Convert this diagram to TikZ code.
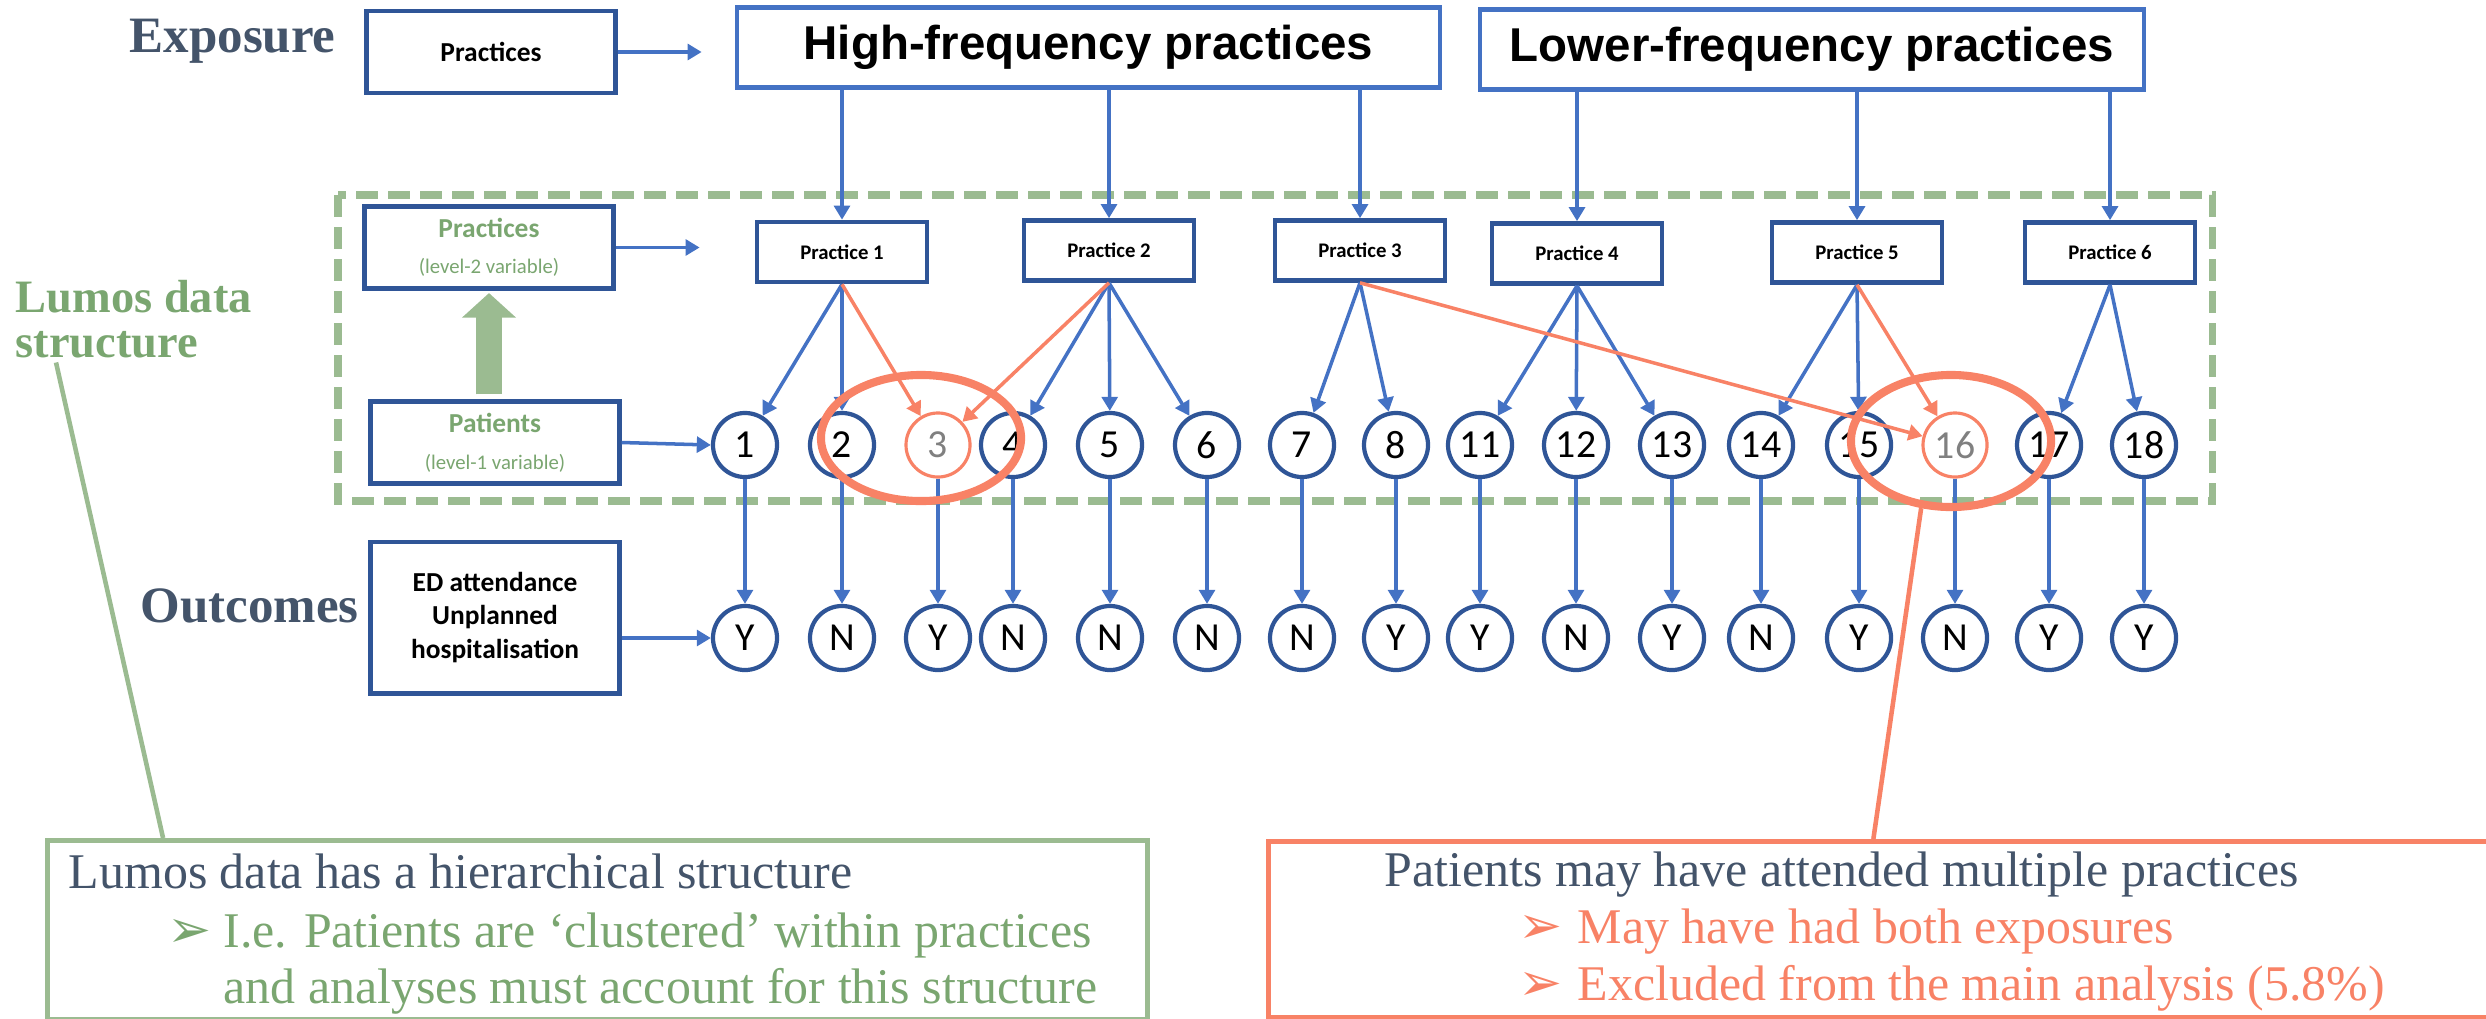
\documentclass[tikz,border=0pt]{standalone}
\usepackage{fontspec}
\setmainfont{Liberation Serif}
\newfontfamily\calfont{Carlito}
\newfontfamily\arialfont{Liberation Sans}
\newfontfamily\bulletfont{DejaVu Sans}
\usetikzlibrary{arrows.meta,positioning,shapes.geometric}
\definecolor{lmblue}{RGB}{68,114,196}
\definecolor{lmnavy}{RGB}{47,85,151}
\definecolor{lmslate}{RGB}{68,84,106}
\definecolor{lmgreen}{RGB}{155,187,145}
\definecolor{lmtextgreen}{RGB}{122,166,112}
\definecolor{lmorange}{RGB}{248,130,102}
\definecolor{lmgray}{RGB}{128,128,128}
\newcommand{\bul}[1]{\makebox[#1][l]{\bulletfont\fontsize{15}{16}\selectfont ➢}}

\begin{document}
\begin{tikzpicture}[x=0.01cm, y=-0.01cm,
  arr/.style={lmblue, line width=1pt, -{Triangle[length=4pt,width=4.5pt]}},
  oarr/.style={lmorange, line width=1pt, -{Triangle[length=4pt,width=4.5pt]}},
  lbox/.style={draw=lmnavy, line width=1.4pt, fill=white, minimum width=2.48cm, align=center, font={\calfont\bfseries\fontsize{7.8}{9.4}\selectfont}},
  prac/.style={draw=lmnavy, line width=1.3pt, fill=white, minimum width=1.7cm, minimum height=0.6cm, font={\calfont\bfseries\fontsize{5.9}{7}\selectfont}},
  freq/.style={draw=lmblue, line width=1.2pt, fill=white, minimum height=0.8cm, font={\arialfont\bfseries\fontsize{13.5}{16}\selectfont}},
  pat/.style={circle, draw=lmnavy, line width=1.2pt, fill=white, minimum size=0.64cm, inner sep=0pt, font={\calfont\fontsize{11.3}{13}\selectfont}},
  ring/.style={ellipse, draw=lmorange, line width=2.3pt, minimum width=2cm, inner sep=0pt},
  heading/.style={anchor=base west, inner sep=0pt, text=lmslate, font={\bfseries\fontsize{14.5}{17}\selectfont}},
  bodytext/.style={anchor=base west, inner sep=0pt, font={\fontsize{14.2}{17}\selectfont}}
]
\useasboundingbox (0,0) rectangle (2486,1018);
% data structure frame
\draw[lmgreen, line width=2pt, dash pattern=on 6.3pt off 2.8pt] (338,195) rectangle (2212,501);

% row labels
\node[heading] (exposure) at (129,52) {Exposure};
\node[heading] (outcomes) at (140,622) {Outcomes};
\node[heading, anchor=north west, align=left, text=lmtextgreen, font={\bfseries\fontsize{13.2}{12.6}\selectfont}] (lumos) at (15,280) {Lumos data\\structure};

% left boxes
\node[lbox, minimum height=0.82cm] (exppractices) at (491,52) {Practices};
\node[lbox, minimum height=0.81cm, text=lmtextgreen] (level2) at (489,247.5) {Practices\\[1pt]{\mdseries\fontsize{5.9}{7}\selectfont (level-2 variable)}};
\node[lbox, minimum height=0.81cm, text=lmtextgreen] (level1) at (495,442.5) {Patients\\[1pt]{\mdseries\fontsize{5.9}{7}\selectfont (level-1 variable)}};
\node[lbox, minimum height=1.51cm] (edbox) at (495,617.5) {ED attendance\\Unplanned\\hospitalisation};

% exposure groups
\node[freq, minimum width=7.03cm] (high) at (1088.5,47.5) {High-frequency practices};
\node[freq, minimum width=6.64cm] (lower) at (1812,49.5) {Lower-frequency practices};

% practices
\node[prac] (prac1) at (842,252) {Practice 1};
\node[prac] (prac2) at (1109,250.5) {Practice 2};
\node[prac] (prac3) at (1360,250.5) {Practice 3};
\node[prac] (prac4) at (1577,253.5) {Practice 4};
\node[prac] (prac5) at (1857,252.5) {Practice 5};
\node[prac] (prac6) at (2110,252.5) {Practice 6};

% patients and outcomes
\foreach \n/\px/\res in {1/745/Y, 2/842/N, 4/1013/N, 5/1110/N, 6/1207/N, 7/1302/N, 8/1396/Y, 11/1480/Y, 12/1576/N, 13/1672/Y, 14/1761/N, 15/1859/Y, 17/2049/Y, 18/2144/Y} {
  \node[pat] (c\n) at (\px,445) {\n};
  \node[pat] (o\n) at (\px,638) {\res};
  \draw[arr] (c\n) -- (o\n);
}
\node[pat, draw=lmorange, line width=0.9pt, text=lmgray] (c3) at (938,445) {3};
\node[pat] (o3) at (938,638) {Y};
\draw[arr] (c3) -- (o3);
\node[pat, draw=lmorange, line width=0.9pt, text=lmgray] (c16) at (1955,445) {16};
\node[pat] (o16) at (1955,638) {N};
\draw[arr] (c16) -- (o16);

% label arrows
\draw[arr, shorten >=0.33cm] (exppractices.east) -- (exppractices.east -| high.west);
\draw[arr, shorten >=0.55cm] (level2.east) -- (level2.east -| prac1.west);
\draw[arr] (level1.east) -- (c1.west);
\draw[arr] (edbox.east |- o1.west) -- (o1.west);
\draw[lmgreen, line width=7.4pt, -{Triangle[length=7pt,width=15pt]}, shorten <=0.045cm, shorten >=0.02cm] (level2.south |- level1.north) -- (level2.south);

% exposure to practices
\draw[arr] (high.south -| prac1) -- (prac1.north);
\draw[arr] (high.south -| prac2) -- (prac2.north);
\draw[arr] (high.south -| prac3) -- (prac3.north);
\draw[arr] (lower.south -| prac4) -- (prac4.north);
\draw[arr] (lower.south -| prac5) -- (prac5.north);
\draw[arr] (lower.south -| prac6) -- (prac6.north);

% practices to patients
\draw[arr] (prac1.south) -- (c1);
\draw[arr] (prac1.south) -- (c2);
\draw[arr] (prac2.south) -- (c4);
\draw[arr] (prac2.south) -- (c5);
\draw[arr] (prac2.south) -- (c6);
\draw[arr] (prac3.south) -- (c7);
\draw[arr] (prac3.south) -- (c8);
\draw[arr] (prac4.south) -- (c11);
\draw[arr] (prac4.south) -- (c12);
\draw[arr] (prac4.south) -- (c13);
\draw[arr] (prac5.south) -- (c14);
\draw[arr] (prac5.south) -- (c15);
\draw[arr] (prac6.south) -- (c17);
\draw[arr] (prac6.south) -- (c18);
% patients with two practices
\draw[oarr] (prac1.south) -- (c3);
\draw[oarr] (prac2.south) -- (c3);
\draw[oarr] (prac3.south) -- (c16);
\draw[oarr] (prac5.south) -- (c16);
\node[ring, minimum height=1.26cm] (ring3) at (921,438) {};
\node[ring, minimum height=1.32cm] (ring16) at (1951,441) {};

% notes
\node[draw=lmgreen, line width=1.4pt, anchor=north west, minimum width=10.99cm, minimum height=1.79cm] (gbox) at (45,838) {};
\node[draw=lmorange, line width=1.5pt, anchor=north west, minimum width=12.4cm, minimum height=1.76cm] (obox) at (1266,839) {};
\draw[lmgreen, line width=1.3pt] ([xshift=0.41cm, yshift=-0.04cm]lumos.south west) -- ([xshift=1.18cm]gbox.north west);
\draw[lmorange, line width=1.3pt] (ring16.246) -- ([xshift=6.07cm]obox.north west);

\node[bodytext, text=lmslate] (gline1) at (68,888) {Lumos data has a hierarchical structure};
\node[bodytext, text=lmtextgreen] (gline2) at (167,947) {\bul{15.9pt}I.e. Patients are ‘clustered’ within practices};
\node[bodytext, text=lmtextgreen] (gline3) at (223,1003) {and analyses must account for this structure};
\node[bodytext, text=lmslate] (oline1) at (1384,886) {Patients may have attended multiple practices};
\node[bodytext, text=lmorange] (oline2) at (1518,943) {\bul{16.8pt}May have had both exposures};
\node[bodytext, text=lmorange] (oline3) at (1518,1000) {\bul{16.8pt}Excluded from the main analysis (5.8\%)};
\end{tikzpicture}
\end{document}
